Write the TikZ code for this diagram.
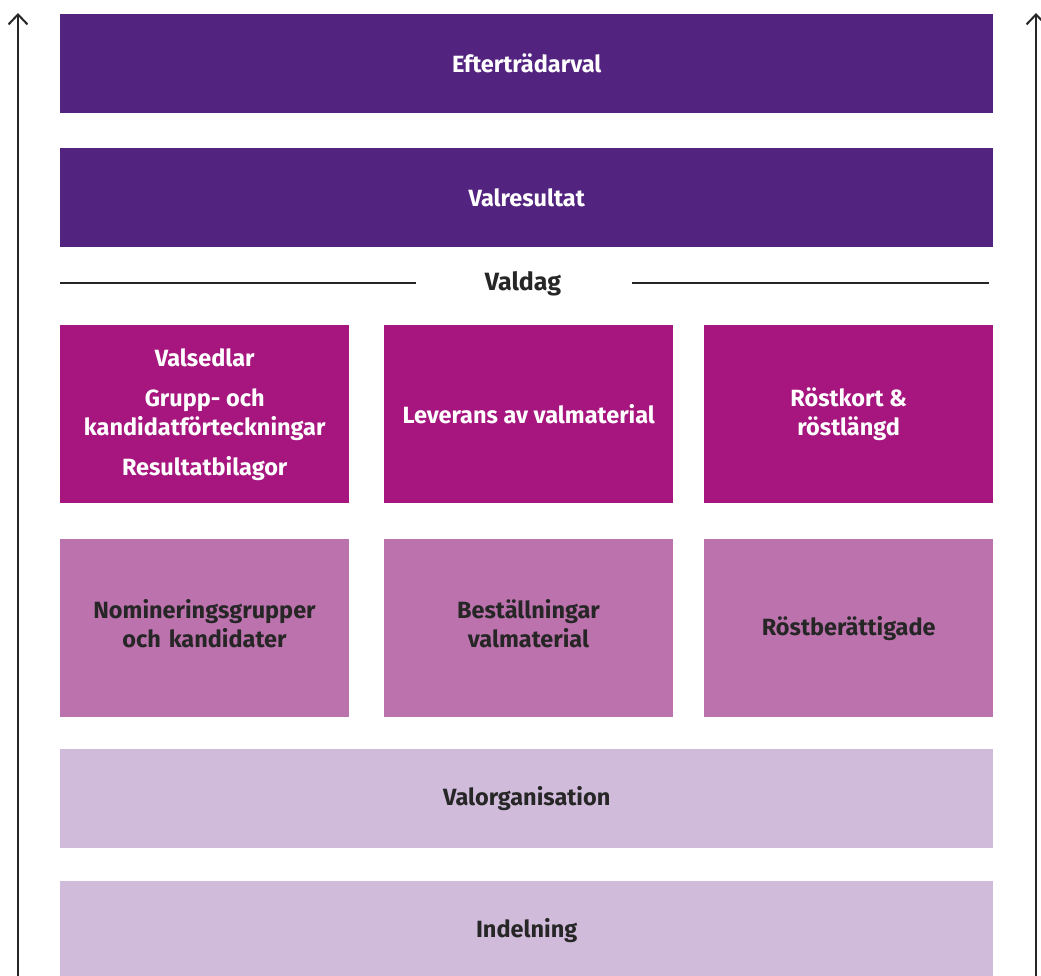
\documentclass[tikz,border=0pt]{standalone}
\usepackage{fontspec}
\setmainfont{Fira Sans}
\usetikzlibrary{arrows.meta}
\definecolor{cdark}{HTML}{52247F}
\definecolor{cmag}{HTML}{A6167E}
\definecolor{cmid}{HTML}{BC73AD}
\definecolor{clight}{HTML}{D0BBDB}
\definecolor{ctext}{HTML}{262626}
\tikzset{
  box/.style={rectangle, inner sep=0pt, anchor=north west, align=center,
    font=\fontsize{23.5}{29}\selectfont\bfseries},
  dbox/.style={box, fill=cdark, text=white},
  mbox/.style={box, fill=cmag, text=white},
  ibox/.style={box, fill=cmid, text=ctext},
  lbox/.style={box, fill=clight, text=ctext},
  axis/.style={draw=ctext, line width=2pt, -{Straight Barb[length=10pt,width=19pt,line width=2pt]}},
  sep/.style={draw=ctext, line width=1.6pt}
}
\begin{document}
\begin{tikzpicture}[x=1pt,y=-1pt]
\useasboundingbox (0,0) rectangle (1041,976);
\node[dbox, minimum width=933pt, minimum height=99pt] (eft) at (60,14) {Efterträdarval};
\node[dbox, minimum width=933pt, minimum height=99pt] (valres) at (60,148) {Valresultat};
\node[font=\fontsize{25}{29}\selectfont\bfseries, text=ctext] (valdag) at (523,284) {Valdag};
\coordinate (l1) at (60,283);
\coordinate (l2) at (416,283);
\coordinate (r1) at (632,283);
\coordinate (r2) at (989,283);
\draw[sep] (l1) -- (l2);
\draw[sep] (r1) -- (r2);
\node[mbox, minimum width=289pt, minimum height=178pt] (valsedlar) at (60,325) {Valsedlar\\[11pt]Grupp- och\\kandidatförteckningar\\[11pt]Resultatbilagor};
\node[mbox, minimum width=289pt, minimum height=178pt] (leverans) at (384,325) {Leverans av valmaterial};
\node[mbox, minimum width=289pt, minimum height=178pt] (rostkort) at (704,325) {Röstkort \&\\röstlängd};
\fill[cmid] (60,539) rectangle (349,717);
\fill[cmid] (384,539) rectangle (673,717);
\node[ibox, fill=none, text width=289pt] (nom) at (204.5,624) [anchor=center] {Nomineringsgrupper\\och kandidater};
\node[ibox, fill=none, text width=289pt] (best) at (528.5,624) [anchor=center] {Beställningar\\valmaterial};
\node[ibox, minimum width=289pt, minimum height=178pt] (rostb) at (704,539) {Röstberättigade};
\node[lbox, minimum width=933pt, minimum height=99pt] (valorg) at (60,749) {Valorganisation};
\node[lbox, minimum width=933pt, minimum height=99pt] (indel) at (60,881) {Indelning};
\coordinate (la0) at (18,980);
\coordinate (la1) at (18,13);
\coordinate (ra0) at (1036,980);
\coordinate (ra1) at (1036,13);
\draw[axis] (la0) -- (la1);
\draw[axis] (ra0) -- (ra1);
\end{tikzpicture}
\end{document}
